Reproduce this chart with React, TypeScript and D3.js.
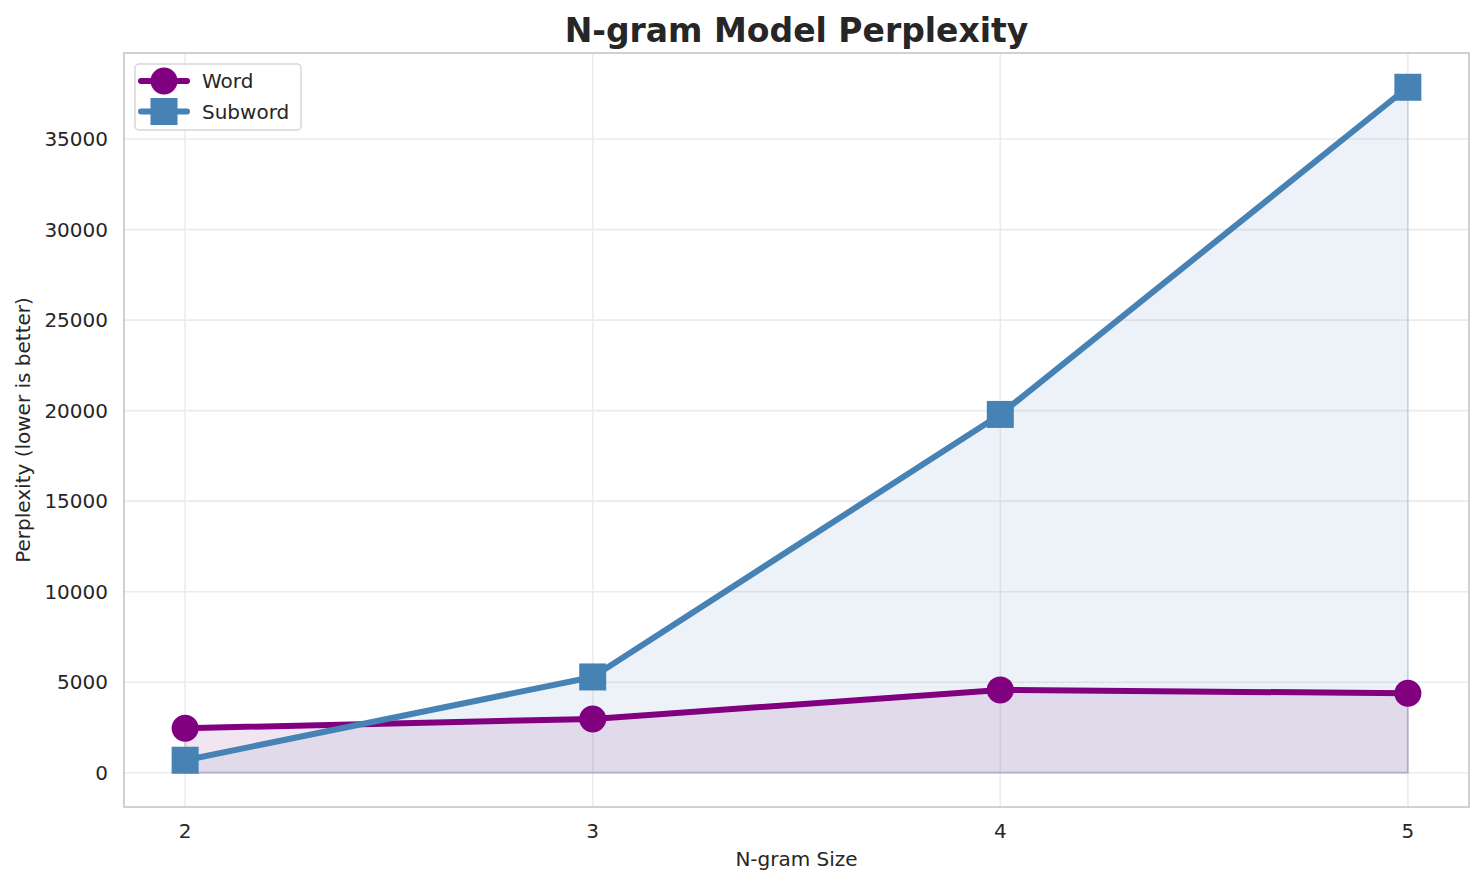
import React, { useEffect, useRef } from 'react';
import * as d3 from 'd3';

const nGramSizes = [2, 3, 4, 5];
const wordPerplexity = [2460, 2970, 4575, 4390];
const subwordPerplexity = [690, 5290, 19790, 37860];
const yTickValues = [0, 5000, 10000, 15000, 20000, 25000, 30000, 35000];

interface ISeries {
  name: string;
  values: number[];
  color: string;
  marker: 'circle' | 'square';
}

const seriesList: ISeries[] = [
  { name: 'Word', values: wordPerplexity, color: '#800080', marker: 'circle' },
  { name: 'Subword', values: subwordPerplexity, color: '#4682b4', marker: 'square' },
];

const WIDTH = 1484;
const HEIGHT = 885;
const FONT = '"DejaVu Sans", sans-serif';

const drawChart = (container: SVGSVGElement) => {
  const margin = { top: 53, left: 124, right: 15, bottom: 78 };
  const innerW = WIDTH - margin.left - margin.right;
  const innerH = HEIGHT - margin.top - margin.bottom;

  const root = d3.select(container);
  root.selectAll('*').remove();

  root.append('rect').attr('width', WIDTH).attr('height', HEIGHT).attr('fill', '#ffffff');

  const svg = root.append('g').attr('transform', `translate(${margin.left}, ${margin.top})`);

  const allValues = [0, ...wordPerplexity, ...subwordPerplexity];
  const yMin = d3.min(allValues) || 0;
  const yMax = d3.max(allValues) || 0;
  const yPad = (yMax - yMin) * 0.05;
  const yScale = d3.scaleLinear().domain([yMin - yPad, yMax + yPad]).range([innerH, 0]);

  const xMin = d3.min(nGramSizes) || 0;
  const xMax = d3.max(nGramSizes) || 0;
  const xPad = (xMax - xMin) * 0.05;
  const xScale = d3.scaleLinear().domain([xMin - xPad, xMax + xPad]).range([0, innerW]);

  // grid
  svg
    .append('g')
    .selectAll('line')
    .data(yTickValues)
    .enter()
    .append('line')
    .attr('x1', 0)
    .attr('x2', innerW)
    .attr('y1', (d) => yScale(d))
    .attr('y2', (d) => yScale(d))
    .attr('stroke', '#ebebeb')
    .attr('stroke-width', 1.6);

  svg
    .append('g')
    .selectAll('line')
    .data(nGramSizes)
    .enter()
    .append('line')
    .attr('y1', 0)
    .attr('y2', innerH)
    .attr('x1', (d) => xScale(d))
    .attr('x2', (d) => xScale(d))
    .attr('stroke', '#ebebeb')
    .attr('stroke-width', 1.6);

  // fills
  seriesList.forEach((s) => {
    const area = d3
      .area<number>()
      .x((d, i) => xScale(nGramSizes[i]))
      .y0(yScale(0))
      .y1((d) => yScale(d));
    svg
      .append('path')
      .attr('d', area(s.values) || '')
      .attr('fill', s.color)
      .attr('fill-opacity', 0.1)
      .attr('stroke', s.color)
      .attr('stroke-opacity', 0.15)
      .attr('stroke-width', 2);
  });

  // lines + markers
  seriesList.forEach((s) => {
    const line = d3
      .line<number>()
      .x((d, i) => xScale(nGramSizes[i]))
      .y((d) => yScale(d));
    svg
      .append('path')
      .attr('d', line(s.values) || '')
      .attr('fill', 'none')
      .attr('stroke', s.color)
      .attr('stroke-width', 6)
      .attr('stroke-linejoin', 'round')
      .attr('stroke-linecap', 'round');

    const pts = svg.append('g').selectAll('g').data(s.values).enter();
    if (s.marker === 'circle') {
      pts
        .append('circle')
        .attr('cx', (d, i) => xScale(nGramSizes[i]))
        .attr('cy', (d) => yScale(d))
        .attr('r', 13.5)
        .attr('fill', s.color);
    } else {
      pts
        .append('rect')
        .attr('x', (d, i) => xScale(nGramSizes[i]) - 13.5)
        .attr('y', (d) => yScale(d) - 13.5)
        .attr('width', 27)
        .attr('height', 27)
        .attr('fill', s.color);
    }
  });

  // spines
  svg
    .append('rect')
    .attr('width', innerW)
    .attr('height', innerH)
    .attr('fill', 'none')
    .attr('stroke', '#cccccc')
    .attr('stroke-width', 1.8);

  // tick labels
  svg
    .append('g')
    .selectAll('text')
    .data(yTickValues)
    .enter()
    .append('text')
    .attr('x', -16)
    .attr('y', (d) => yScale(d) + 7)
    .attr('text-anchor', 'end')
    .attr('fill', '#262626')
    .style('font-family', FONT)
    .style('font-size', '20px')
    .text((d) => String(d));

  svg
    .append('g')
    .selectAll('text')
    .data(nGramSizes)
    .enter()
    .append('text')
    .attr('x', (d) => xScale(d))
    .attr('y', innerH + 31)
    .attr('text-anchor', 'middle')
    .attr('fill', '#262626')
    .style('font-family', FONT)
    .style('font-size', '20px')
    .text((d) => String(d));

  // axis labels
  svg
    .append('text')
    .attr('x', innerW / 2)
    .attr('y', innerH + 59)
    .attr('text-anchor', 'middle')
    .attr('fill', '#262626')
    .style('font-family', FONT)
    .style('font-size', '20px')
    .text('N-gram Size');

  svg
    .append('text')
    .attr('transform', `translate(${30 - margin.left}, ${innerH / 2}) rotate(-90)`)
    .attr('text-anchor', 'middle')
    .attr('fill', '#262626')
    .style('font-family', FONT)
    .style('font-size', '20px')
    .text('Perplexity (lower is better)');

  // title
  svg
    .append('text')
    .attr('x', innerW / 2)
    .attr('y', 42 - margin.top)
    .attr('text-anchor', 'middle')
    .attr('fill', '#262626')
    .style('font-family', FONT)
    .style('font-size', '33px')
    .style('font-weight', 'bold')
    .text('N-gram Model Perplexity');

  // legend
  const legend = svg.append('g').attr('transform', 'translate(11, 11)');
  legend
    .append('rect')
    .attr('width', 166)
    .attr('height', 66)
    .attr('rx', 4)
    .attr('fill', '#ffffff')
    .attr('fill-opacity', 0.8)
    .attr('stroke', '#d6d6d6')
    .attr('stroke-width', 1.5);

  seriesList.forEach((s, i) => {
    const row = legend.append('g').attr('transform', `translate(0, ${17 + i * 30.5})`);
    row
      .append('line')
      .attr('x1', 6)
      .attr('x2', 52)
      .attr('stroke', s.color)
      .attr('stroke-width', 6)
      .attr('stroke-linecap', 'round');
    if (s.marker === 'circle') {
      row.append('circle').attr('cx', 29).attr('r', 13.5).attr('fill', s.color);
    } else {
      row
        .append('rect')
        .attr('x', 15.5)
        .attr('y', -13.5)
        .attr('width', 27)
        .attr('height', 27)
        .attr('fill', s.color);
    }
    row
      .append('text')
      .attr('x', 67)
      .attr('y', 7)
      .attr('fill', '#262626')
      .style('font-family', FONT)
      .style('font-size', '20px')
      .text(s.name);
  });
};

const App: React.FC = () => {
  const svgRef = useRef<SVGSVGElement>(null);

  useEffect(() => {
    document.body.style.margin = '0';
    if (svgRef && svgRef.current) {
      drawChart(svgRef.current);
    }
  }, [svgRef]);

  return <svg ref={svgRef} width={WIDTH} height={HEIGHT} style={{ display: 'block' }}></svg>;
};

export default App;
